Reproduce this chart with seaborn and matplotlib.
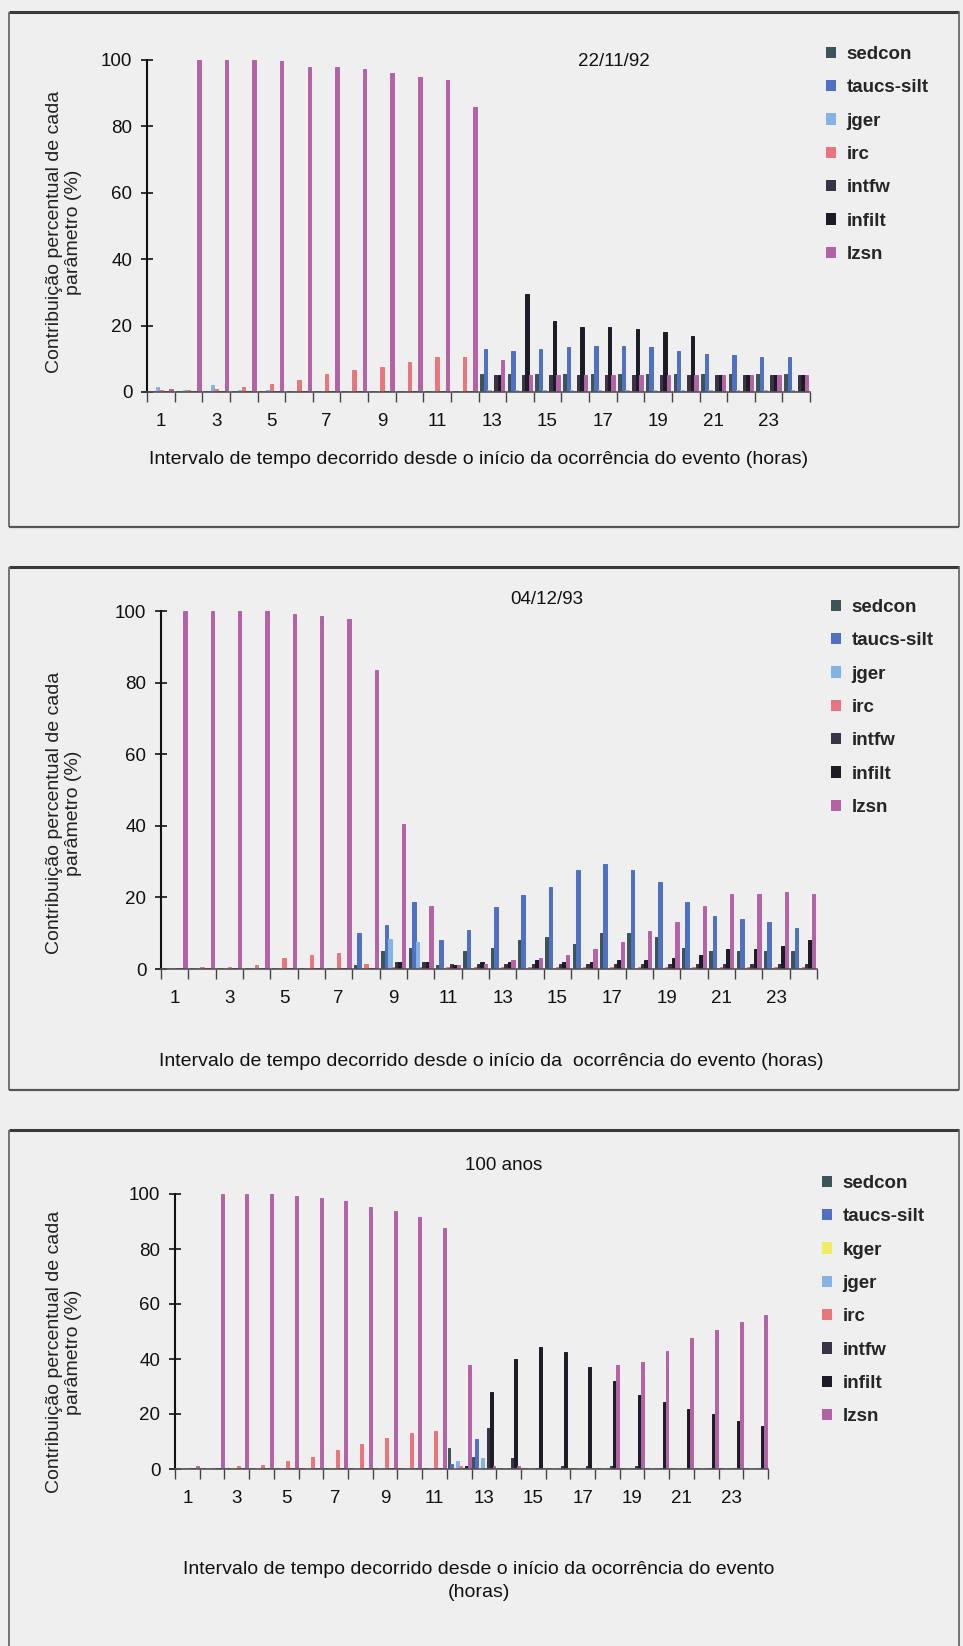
import numpy as np
import pandas as pd
import matplotlib
matplotlib.use("Agg")
import matplotlib.pyplot as plt
from matplotlib.lines import Line2D
import seaborn as sns

# ---------------------------------------------------------------------------
# Data: percentage contribution of each parameter, per hour of the event
# ---------------------------------------------------------------------------
hours = [str(h) for h in range(1, 25)]

names7 = ["sedcon", "taucs-silt", "jger", "irc", "intfw", "infilt", "lzsn"]
names8 = ["sedcon", "taucs-silt", "kger", "jger", "irc", "intfw", "infilt", "lzsn"]

# Event 22/11/92
p1_sedcon = [0.3] * 12 + [5.5] * 12
p1_taucs = [0.2] * 12 + [13, 12.5, 13, 13.5, 14, 14, 13.5, 12.5, 11.5, 11, 10.5, 10.5]
p1_jger = [1.5, 0.5, 2, 0.5, 0.5, 0.3, 0.3, 0.3, 0.3, 0.3, 0.3, 0.3] + [0.5] * 12
p1_irc = [0.5, 0.5, 1, 1.5, 2.5, 3.5, 5.5, 6.5, 7.5, 9, 10.5, 10.5] + [0.3] * 12
p1_intfw = [0.3] * 12 + [5] * 12
p1_infilt = [0.3] * 12 + [5, 29.5, 21.5, 19.5, 19.5, 19, 18, 17, 5, 5, 5, 5]
p1_lzsn = [1, 100, 100, 100, 99.6, 98, 97.8, 97.2, 96, 94.9, 94, 85.8,
           9.5, 5, 5, 5, 5, 5, 5, 5, 5, 5, 5, 5]

# Event 04/12/93
p2_sedcon = [0.3, 0.3, 0.3, 0.3, 0.3, 0.3, 0.3, 1, 5, 6, 1, 5,
             6, 8, 9, 7, 10, 10, 9, 6, 5, 5, 5, 5]
p2_taucs = [0.2, 0.2, 0.2, 0.2, 0.2, 0.2, 0.2, 10, 12.3, 18.8, 8.1, 10.9,
            17.4, 20.6, 23, 27.6, 29.2, 27.6, 24.4, 18.8, 14.8, 14, 13, 11.4]
p2_jger = [0.3] * 8 + [8.5, 7.5] + [0.3] * 14
p2_irc = [0.3, 0.5, 0.5, 1, 3, 4, 4.5, 1.5] + [0.5] * 16
p2_intfw = [0.3] * 8 + [2, 2] + [1.5] * 14
p2_infilt = [0.3] * 8 + [2, 2, 1, 2, 2, 2.5, 2, 2, 2.5, 2.5, 3, 4, 5.5, 5.5, 6.5, 8]
p2_lzsn = [100, 100, 100, 100, 99.3, 98.5, 97.8, 83.5, 40.5, 17.5, 1, 1.5,
           2.5, 3, 4, 5.5, 7.5, 10.5, 13, 17.5, 21, 21, 21.5, 21]

# 100-year event
p3_sedcon = [0.3] * 11 + [7.5, 4.5] + [0.3] * 11
p3_taucs = [0.2] * 11 + [2, 11] + [0.2] * 11
p3_kger = [0.2] * 24
p3_jger = [0.2] * 11 + [3, 4] + [0.2] * 11
p3_irc = [0.5, 0.5, 1, 1.5, 3, 4.5, 6.8, 9, 11.2, 13.2, 14, 1] + [0.3] * 12
p3_intfw = [0.3] * 12 + [15, 4, 0.3, 1, 1, 1, 1, 0.3, 0.3, 0.3, 0.3, 0.3]
p3_infilt = [0.3] * 11 + [1, 28, 40, 44.5, 42.5, 37, 32, 27, 24.5, 22, 20, 17.5, 15.5]
p3_lzsn = [1, 100, 100, 100, 99.4, 98.4, 97.5, 95.4, 93.8, 91.7, 87.8, 38,
           1, 1, 0.5, 0.5, 0.5, 38, 39, 43, 47.5, 50.5, 53.5, 56]

colors = {
    "sedcon": "#3a5458",
    "taucs-silt": "#5070c4",
    "kger": "#f0ec60",
    "jger": "#84b4e6",
    "irc": "#e8767c",
    "intfw": "#3a3346",
    "infilt": "#1c1c26",
    "lzsn": "#b462a6",
}

ylabel_txt = "Contribuição percentual de cada\nparâmetro (%)"
xlabel_1 = "Intervalo de tempo decorrido desde o início da ocorrência do evento (horas)"
xlabel_2 = "Intervalo de tempo decorrido desde o início da  ocorrência do evento (horas)"
xlabel_3 = "Intervalo de tempo decorrido desde o início da ocorrência do evento\n(horas)"

# ---------------------------------------------------------------------------
# Figure set-up (pixel helpers)
# ---------------------------------------------------------------------------
sns.set_theme(style="white")
plt.rcParams["font.family"] = ["Liberation Sans", "DejaVu Sans"]

W, H = 963, 1646
BG = "#efefef"
fig = plt.figure(figsize=(W / 100, H / 100), dpi=100, facecolor=BG)


def fx(px):
    return px / W


def fy(py):
    return 1 - py / H


def line(xs, ys, lw, c):
    fig.add_artist(Line2D([fx(x) for x in xs], [fy(y) for y in ys],
                          transform=fig.transFigure, lw=lw, color=c,
                          solid_capstyle="butt"))


panels = [
    dict(title="22/11/92", names=names7,
         series=[p1_sedcon, p1_taucs, p1_jger, p1_irc, p1_intfw, p1_infilt, p1_lzsn],
         box=(147, 60, 810, 392), width=0.88, title_xy=(614, 62),
         legend_xy=(826, 46), ylab_y=232, xlab=xlabel_1, xlab_xy=(479, 459),
         frame=(9, 12, 959, 527)),
    dict(title="04/12/93", names=names7,
         series=[p2_sedcon, p2_taucs, p2_jger, p2_irc, p2_intfw, p2_infilt, p2_lzsn],
         box=(161, 611, 817, 969), width=0.88, title_xy=(547, 600),
         legend_xy=(831, 599), ylab_y=813, xlab=xlabel_2, xlab_xy=(491, 1061),
         frame=(9, 567, 959, 1090)),
    dict(title="100 anos", names=names8,
         series=[p3_sedcon, p3_taucs, p3_kger, p3_jger, p3_irc, p3_intfw, p3_infilt, p3_lzsn],
         box=(175, 1194, 768, 1469), width=0.94, title_xy=(504, 1165),
         legend_xy=(822, 1175), ylab_y=1352, xlab=xlabel_3, xlab_xy=(479, 1581),
         frame=(9, 1130, 959, None)),
]

for p in panels:
    x0, ytop, x1, ybot = p["box"]
    ax = fig.add_axes([fx(x0), fy(ybot), (x1 - x0) / W, (ybot - ytop) / H])
    ax.set_facecolor("none")

    names = p["names"]
    df = pd.DataFrame({
        "hora": np.tile(hours, len(names)),
        "parametro": np.repeat(names, len(hours)),
        "valor": np.concatenate([np.asarray(s, float) for s in p["series"]]),
    })
    sns.barplot(data=df, x="hora", y="valor", hue="parametro",
                order=hours, hue_order=names,
                palette={n: colors[n] for n in names},
                width=p["width"], gap=0.0, saturation=1,
                errorbar=None, linewidth=0, ax=ax)

    # outline each bar in its own fill colour so the thin columns read heavier
    for patch in ax.patches:
        patch.set_edgecolor(patch.get_facecolor())
        patch.set_linewidth(0.7)

    ax.set_xlim(-0.5, 23.5)
    ax.set_ylim(0, 100)
    ax.set_xlabel("")
    ax.set_ylabel("")
    ax.set_xticks(range(0, 24, 2))
    ax.set_xticklabels(hours[::2])
    ax.set_xticks(np.arange(-0.5, 24, 1), minor=True)
    ax.tick_params(axis="x", which="major", bottom=True, length=0, pad=15,
                   labelsize=13.5, labelcolor="#111111")
    ax.tick_params(axis="x", which="minor", bottom=True, length=7, width=1,
                   direction="out", color="#444444")
    ax.set_yticks(range(0, 101, 20))
    ax.tick_params(axis="y", which="major", left=True, length=9, width=1.2,
                   direction="inout", labelsize=13.5, pad=6,
                   color="#111111", labelcolor="#111111")
    ax.grid(False)
    for side in ("top", "right"):
        ax.spines[side].set_visible(False)
    ax.spines["left"].set_color("#111111")
    ax.spines["left"].set_linewidth(1.5)
    ax.spines["bottom"].set_color("#555555")
    ax.spines["bottom"].set_linewidth(1.2)

    # legend moved to the right-hand column of the panel
    old = ax.get_legend()
    handles = old.legend_handles
    labels = [t.get_text() for t in old.get_texts()]
    old.remove()
    ax.legend(handles, labels, loc="upper left",
              bbox_to_anchor=(fx(p["legend_xy"][0]), fy(p["legend_xy"][1])),
              bbox_transform=fig.transFigure, frameon=False,
              prop={"weight": "bold", "size": 13.5},
              handlelength=0.55, handleheight=0.55, handletextpad=0.55,
              labelspacing=0.87, borderpad=0, borderaxespad=0)

    # titles and axis captions
    fig.text(fx(p["title_xy"][0]), fy(p["title_xy"][1]), p["title"],
             ha="center", va="center", fontsize=13.5, color="#111111")
    fig.text(fx(p["xlab_xy"][0]), fy(p["xlab_xy"][1]), p["xlab"],
             ha="center", va="center", fontsize=14, color="#111111",
             linespacing=1.45, multialignment="center")
    fig.text(fx(64), fy(p["ylab_y"]), ylabel_txt, rotation=90,
             ha="center", va="center", fontsize=14, color="#222222",
             multialignment="center", linespacing=1.15)

    # panel frame
    fl, ft, fr, fb = p["frame"]
    bottom = fb if fb is not None else H + 5
    line([fl, fr], [ft, ft], 2.2, "#3a3a3a")
    line([fl, fl], [ft, bottom], 1.3, "#6a6a6a")
    line([fr, fr], [ft, bottom], 1.3, "#6a6a6a")
    if fb is not None:
        line([fl, fr], [fb, fb], 1.6, "#555555")

fig.savefig("out.png", dpi=100, facecolor=fig.get_facecolor())
